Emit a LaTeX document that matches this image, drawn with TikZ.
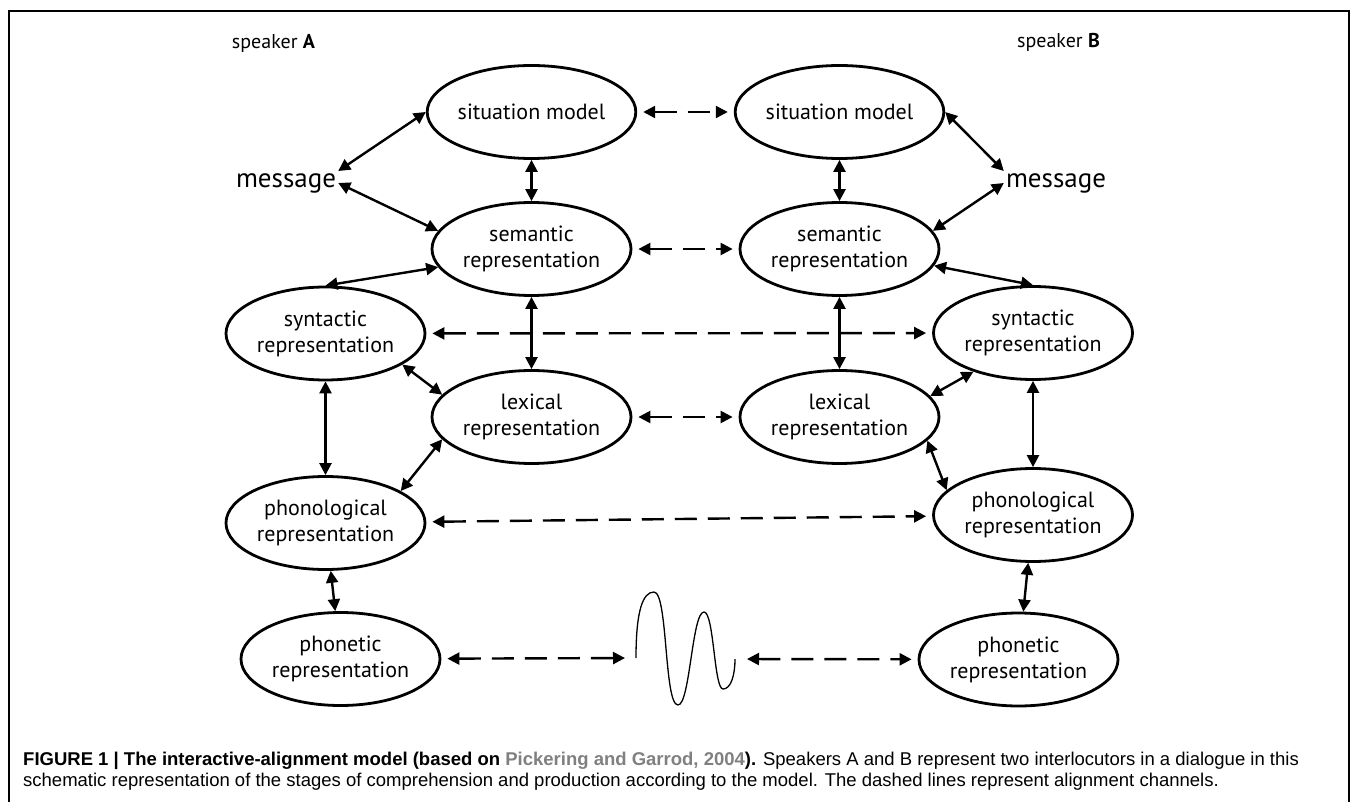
\documentclass[tikz,border=0pt]{standalone}
\usepackage{fontspec}
\setmainfont{PT Sans}
\newfontfamily\capfont{Liberation Sans}
\usetikzlibrary{shapes.geometric,positioning,arrows.meta}
\definecolor{citegray}{RGB}{128,128,128}

\begin{document}
\begin{tikzpicture}[x=1pt,y=1pt,on grid,
    stage/.style={ellipse,draw,line width=2.8pt,minimum width=199pt,minimum height=93pt,
      inner sep=0pt,align=center,font=\fontsize{22}{26}\selectfont},
    msg/.style={inner sep=2pt,font=\fontsize{27}{30}\selectfont},
    spk/.style={inner sep=0pt,font=\fontsize{20}{24}\selectfont},
    capline/.style={inner sep=0pt,anchor=base west,font=\capfont\fontsize{18.5}{22}\selectfont},
    biarr/.style={line width=2.4pt,{Triangle[length=12pt,width=12pt]}-{Triangle[length=12pt,width=12pt]}},
    chan/.style={biarr,dash pattern=on 22pt off 11pt,shorten <=6pt,shorten >=6pt}]
   \useasboundingbox (0,0) rectangle (1355,-802);
   \draw[line width=2pt] (9,-11) rectangle (1349,-840);

   % speaker A
   \node[stage] (sitA) at (531.5,-112) {situation model};
   \node[stage] (semA) [below=137pt of sitA] {semantic\\representation};
   \node[stage] (lexA) [below=168pt of semA] {lexical\\representation};
   \node[stage] (synA) [below left=84.5pt and 206pt of semA] {syntactic\\representation};
   \node[stage] (phonA) [below=189.5pt of synA] {phonological\\representation};
   \node[stage] (phtA) [below right=136pt and 15pt of phonA] {phonetic\\representation};
   \node[msg] (msgA) at (286,-183) {message};
   \node[spk] (spkA) at (273.5,-43) {speaker \textbf{A}};

   % speaker B
   \node[stage] (sitB) [right=308pt of sitA] {situation model};
   \node[stage] (semB) [right=308pt of semA] {semantic\\representation};
   \node[stage] (lexB) [right=308pt of lexA] {lexical\\representation};
   \node[stage] (synB) [below right=84pt and 193.5pt of semB] {syntactic\\representation};
   \node[stage] (phonB) [below=182pt of synB] {phonological\\representation};
   \node[stage] (phtB) [below left=144.5pt and 14.5pt of phonB] {phonetic\\representation};
   \node[msg] (msgB) at (1056,-183) {message};
   \node[spk] (spkB) at (1058.5,-42) {speaker \textbf{B}};

   % the sound wave
   \coordinate (wvL) at (636,-658);
   \coordinate (wvR) at (735,-659);
   \draw[line width=1.3pt] (wvL) .. controls (636,-610) and (643,-592) .. (654,-592)
      .. controls (668,-592) and (664,-705) .. (678,-705)
      .. controls (690,-705) and (692,-612) .. (704,-612)
      .. controls (714,-612) and (714,-689) .. (723,-689)
      .. controls (731,-689) and (735,-675) .. (wvR);

   % within speaker A
   \draw[biarr] (msgA.north east) -- (sitA.west);
   \draw[biarr] (msgA.east) -- (semA.169);
   \draw[biarr] (sitA) -- (semA);
   \draw[biarr] (semA.191) -- (synA.north);
   \draw[biarr] (semA) -- (lexA);
   \draw[biarr] (synA.-22) -- (lexA.166);
   \draw[biarr] (synA) -- (phonA);
   \draw[biarr] (lexA.194) -- (phonA.23);
   \draw[biarr] (phonA) -- (phtA);

   % within speaker B
   \draw[biarr] (sitB.east) -- (msgB.north west);
   \draw[biarr] (semB.11) -- (msgB.west);
   \draw[biarr] (sitB) -- (semB);
   \draw[biarr] (semB.-10) -- (synB.north);
   \draw[biarr] (semB) -- (lexB);
   \draw[biarr] (lexB.13) -- (synB.213);
   \draw[biarr] (synB) -- (phonB);
   \draw[biarr] (lexB.-15) -- (phonB.164);
   \draw[biarr] (phonB) -- (phtB);

   % alignment channels
   \draw[chan] (sitA) -- (sitB);
   \draw[chan] (semA) -- (semB);
   \draw[chan] (synA) -- (synB);
   \draw[chan] (lexA) -- (lexB);
   \draw[chan] (phonA) -- (phonB);
   \draw[chan,shorten >=11pt] (phtA) -- (wvL);
   \draw[chan,shorten <=12pt] (wvR) -- (phtB);

   % caption
   \node[capline] (capA) at (23,-765) {\textbf{FIGURE 1 | The interactive-alignment model (based on \textcolor{citegray}{Pickering and Garrod, 2004}).} Speakers A and B represent two interlocutors in a dialogue in this};
   \node[capline] (capB) at (23,-786) {schematic representation of the stages of comprehension and production according to the model. The dashed lines represent alignment channels.};
\end{tikzpicture}
\end{document}
